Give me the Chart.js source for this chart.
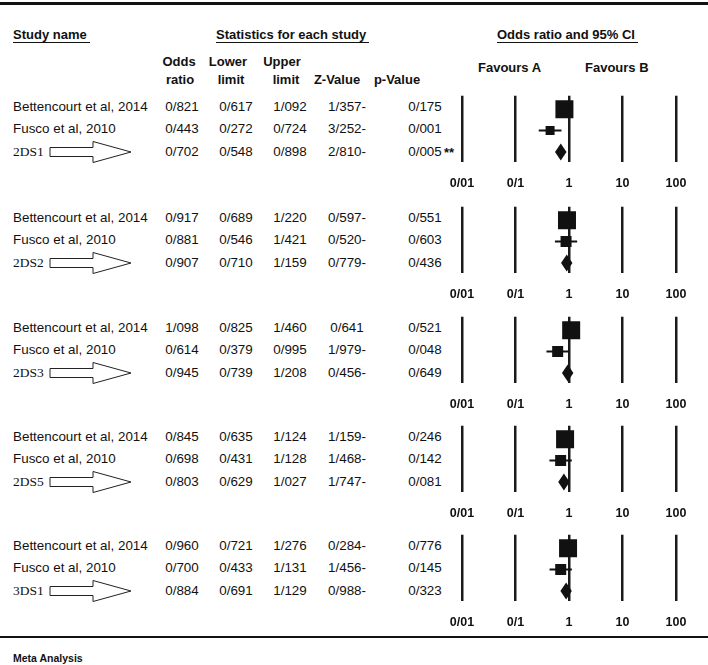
<!DOCTYPE html>
<html>
<head>
<meta charset="utf-8">
<script src="https://cdn.jsdelivr.net/npm/chart.js@4.4.1/dist/chart.umd.min.js"></script>
<style>
  body { margin: 0; background: #fff; }
  #page { position: relative; width: 708px; height: 665px; overflow: hidden;
          font-family: "Liberation Sans", Arial, sans-serif; color: #111; }
  .t { position: absolute; white-space: nowrap; line-height: 16px; font-size: 13.4px; }
  .b { font-weight: bold; font-size: 13px; }
  .serif { font-family: "Liberation Serif", "Times New Roman", serif; font-size: 13.5px; }
  .ul { border-bottom: 1.5px solid #111; padding-right: 3px; }
  .rule { position: absolute; left: 0; width: 708px; background: #111; }
  canvas { position: absolute; }
</style>
</head>
<body>
<div id="page">
  <div class="rule" style="top:2px;height:3px"></div>
  <div class="rule" style="top:636px;height:2px"></div>
</div>
<script>
// ---- data ----
const groupNames = ['2DS1', '2DS2', '2DS3', '2DS5', '3DS1'];
const studyNames = ['Bettencourt et al, 2014', 'Fusco et al, 2010'];

const bettOR    = [0.821, 0.917, 1.098, 0.845, 0.960];
const bettLower = [0.617, 0.689, 0.825, 0.635, 0.721];
const bettUpper = [1.092, 1.220, 1.460, 1.124, 1.276];
const bettZ     = [-1.357, -0.597, 0.641, -1.159, -0.284];
const bettP     = [0.175, 0.551, 0.521, 0.246, 0.776];

const fuscoOR    = [0.443, 0.881, 0.614, 0.698, 0.700];
const fuscoLower = [0.272, 0.546, 0.379, 0.431, 0.433];
const fuscoUpper = [0.724, 1.421, 0.995, 1.128, 1.131];
const fuscoZ     = [-3.252, -0.520, -1.979, -1.468, -1.456];
const fuscoP     = [0.001, 0.603, 0.048, 0.142, 0.145];

const poolOR    = [0.702, 0.907, 0.945, 0.803, 0.884];
const poolLower = [0.548, 0.710, 0.739, 0.629, 0.691];
const poolUpper = [0.898, 1.159, 1.208, 1.027, 1.129];
const poolZ     = [-2.810, -0.779, -0.456, -1.747, -0.988];
const poolP     = [0.005, 0.436, 0.649, 0.081, 0.323];

const tickValues = [0.01, 0.1, 1, 10, 100];
const tickLabels = ['0/01', '0/1', '1', '10', '100'];

// ---- layout / style ----
const groupTop = [107, 218, 328, 437, 546];
const rowGap = 22.3;
const colX = [182, 236, 290, 347, 425];
const bigSide = 18;
const smallSide = [9, 11, 11, 11, 11];
const ink = '#111';
const page = document.getElementById('page');

function fmt(v) { return v.toFixed(3).replace('.', '/'); }
function fmtZ(v) { return fmt(Math.abs(v)) + (v < 0 ? '-' : ''); }

function addText(txt, x, y, cls, align) {
  const d = document.createElement('div');
  d.className = 't ' + (cls || '');
  d.innerHTML = txt;
  d.style.top = (y - 8) + 'px';
  d.style.left = x + 'px';
  if (align === 'center') d.style.transform = 'translateX(-50%)';
  page.appendChild(d);
  return d;
}

function addArrow(y) {
  const ns = 'http://www.w3.org/2000/svg';
  const svg = document.createElementNS(ns, 'svg');
  svg.setAttribute('width', 90);
  svg.setAttribute('height', 26);
  svg.style.position = 'absolute';
  svg.style.left = '48px';
  svg.style.top = (y - 13) + 'px';
  const p = document.createElementNS(ns, 'polygon');
  p.setAttribute('points', '2,8.5 45,8.5 45,2.5 83,13 45,23.5 45,17.5 2,17.5');
  p.setAttribute('fill', '#fff');
  p.setAttribute('stroke', '#222');
  p.setAttribute('stroke-width', '1');
  svg.appendChild(p);
  page.appendChild(svg);
}

// headers
addText('<span class="ul">Study name</span>', 13, 35, 'b');
addText('<span class="ul">Statistics for each study</span>', 216, 35, 'b');
addText('<span class="ul">Odds ratio and 95% CI</span>', 497, 35, 'b');
addText('Odds', 179, 62, 'b', 'center');
addText('ratio', 180, 80, 'b', 'center');
addText('Lower', 228, 62, 'b', 'center');
addText('limit', 231, 80, 'b', 'center');
addText('Upper', 282, 62, 'b', 'center');
addText('limit', 286, 80, 'b', 'center');
addText('Z-Value', 337, 80, 'b', 'center');
addText('p-Value', 397, 80, 'b', 'center');
addText('Favours A', 478, 68, 'b');
addText('Favours B', 585, 68, 'b');
addText('Meta Analysis', 13, 658, 'b').style.fontSize = '10.5px';

// table rows
groupNames.forEach((name, g) => {
  const rows = [
    [bettOR[g], bettLower[g], bettUpper[g], bettZ[g], bettP[g]],
    [fuscoOR[g], fuscoLower[g], fuscoUpper[g], fuscoZ[g], fuscoP[g]],
    [poolOR[g], poolLower[g], poolUpper[g], poolZ[g], poolP[g]]
  ];
  rows.forEach((r, i) => {
    const y = groupTop[g] + i * rowGap;
    if (i < 2) addText(studyNames[i], 13, y);
    else { addText(name, 13, y, 'serif'); addArrow(y); }
    addText(fmt(r[0]), colX[0], y, '', 'center');
    addText(fmt(r[1]), colX[1], y, '', 'center');
    addText(fmt(r[2]), colX[2], y, '', 'center');
    addText(fmtZ(r[3]), colX[3], y, '', 'center');
    addText(fmt(r[4]), colX[4], y, '', 'center');
    if (i === 2 && r[4] < 0.01) addText('**', 444, y + 1, 'b');
  });
});

// diamond for the pooled estimate
const diamondPlugin = {
  id: 'diamond',
  afterDatasetsDraw(chart, args, opts) {
    const g = opts.group;
    const { ctx, scales: { x, y } } = chart;
    const xl = x.getPixelForValue(poolLower[g]);
    const xm = x.getPixelForValue(poolOR[g]);
    const xr = x.getPixelForValue(poolUpper[g]);
    const ym = y.getPixelForValue(2);
    ctx.save();
    ctx.fillStyle = ink;
    ctx.beginPath();
    ctx.moveTo(xl, ym);
    ctx.lineTo(xm, ym - 8.5);
    ctx.lineTo(xr, ym);
    ctx.lineTo(xm, ym + 8.5);
    ctx.closePath();
    ctx.fill();
    ctx.restore();
  }
};

// one forest panel per group
groupNames.forEach((name, g) => {
  const cv = document.createElement('canvas');
  cv.width = 278;
  cv.height = 110;
  cv.style.left = '430px';
  cv.style.top = (groupTop[g] - 24) + 'px';
  page.appendChild(cv);

  new Chart(cv.getContext('2d'), {
    type: 'scatter',
    data: {
      datasets: [
        {
          data: [{ x: bettLower[g], y: 0 }, { x: bettUpper[g], y: 0 }],
          showLine: true, borderColor: ink, borderWidth: 2, pointRadius: 0
        },
        {
          data: [{ x: fuscoLower[g], y: 1 }, { x: fuscoUpper[g], y: 1 }],
          showLine: true, borderColor: ink, borderWidth: 2, pointRadius: 0
        },
        {
          data: [{ x: bettOR[g], y: 0 }, { x: fuscoOR[g], y: 1 }],
          pointStyle: 'rect',
          pointRadius: [bigSide / Math.SQRT2, smallSide[g] / Math.SQRT2],
          backgroundColor: ink, borderWidth: 0
        }
      ]
    },
    options: {
      responsive: false,
      animation: false,
      events: [],
      layout: { padding: { left: 32, right: 32, top: 10, bottom: 0 } },
      plugins: { legend: { display: false }, tooltip: { enabled: false }, diamond: { group: g } },
      scales: {
        x: {
          type: 'logarithmic',
          min: 0.01,
          max: 100,
          afterBuildTicks: s => { s.ticks = tickValues.map(v => ({ value: v })); },
          afterFit: s => { s.height = 31; },
          grid: { color: '#1a1a1a', lineWidth: 2.5, drawTicks: false },
          border: { display: false },
          ticks: {
            autoSkip: false, maxRotation: 0, padding: 14, color: ink,
            font: { family: '"Liberation Sans", Arial, sans-serif', size: 12.5, weight: 'bold' },
            callback: (v, i) => tickLabels[i]
          }
        },
        y: { display: false, reverse: true, min: -0.63, max: 2.47 }
      }
    },
    plugins: [diamondPlugin]
  });
});
</script>
</body>
</html>
